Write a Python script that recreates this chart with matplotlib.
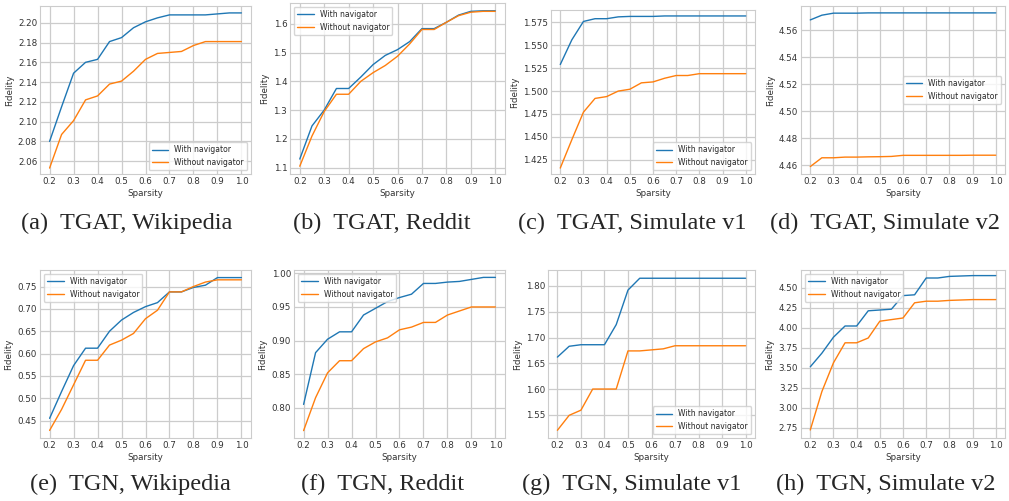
import matplotlib
matplotlib.use('Agg')
from matplotlib import pyplot as plt
from matplotlib.ticker import MultipleLocator, FormatStrFormatter
import seaborn as sns

# =================================
# Data
# =================================
sparsity = [0.2, 0.25, 0.3, 0.35, 0.4, 0.45, 0.5, 0.55, 0.6, 0.65, 0.7, 0.75, 0.8, 0.85, 0.9, 0.95, 1.0]

tgat_wiki_with = [2.080, 2.115, 2.149, 2.160, 2.163, 2.181, 2.185, 2.195, 2.201, 2.205, 2.208, 2.208, 2.208, 2.208, 2.209, 2.210, 2.210]
tgat_wiki_without = [2.053, 2.087, 2.101, 2.122, 2.126, 2.138, 2.141, 2.151, 2.163, 2.169, 2.170, 2.171, 2.177, 2.181, 2.181, 2.181, 2.181]

tgat_reddit_with = [1.13, 1.245, 1.30, 1.375, 1.375, 1.415, 1.458, 1.49, 1.51, 1.538, 1.583, 1.583, 1.605, 1.630, 1.643, 1.645, 1.645]
tgat_reddit_without = [1.105, 1.21, 1.295, 1.355, 1.355, 1.40, 1.43, 1.455, 1.487, 1.53, 1.58, 1.58, 1.605, 1.628, 1.640, 1.643, 1.643]

tgat_sim1_with = [1.529, 1.556, 1.576, 1.579, 1.579, 1.581, 1.5815, 1.5815, 1.5815, 1.582, 1.582, 1.582, 1.582, 1.582, 1.582, 1.582, 1.582]
tgat_sim1_without = [1.416, 1.447, 1.477, 1.492, 1.494, 1.500, 1.502, 1.509, 1.510, 1.514, 1.517, 1.517, 1.519, 1.519, 1.519, 1.519, 1.519]

tgat_sim2_with = [4.5675, 4.571, 4.5725, 4.5725, 4.5725, 4.5727, 4.5727, 4.5727, 4.5727, 4.5727, 4.5727, 4.5727, 4.5727, 4.5727, 4.5727, 4.5727, 4.5727]
tgat_sim2_without = [4.459, 4.4655, 4.4655, 4.466, 4.466, 4.4662, 4.4663, 4.4665, 4.4673, 4.4673, 4.4673, 4.4673, 4.4673, 4.4673, 4.4674, 4.4674, 4.4674]

tgn_wiki_with = [0.455, 0.515, 0.573, 0.612, 0.612, 0.650, 0.675, 0.692, 0.705, 0.714, 0.738, 0.738, 0.748, 0.753, 0.770, 0.770, 0.770]
tgn_wiki_without = [0.428, 0.475, 0.530, 0.585, 0.585, 0.619, 0.630, 0.645, 0.678, 0.697, 0.738, 0.738, 0.750, 0.760, 0.765, 0.765, 0.765]

tgn_reddit_with = [0.805, 0.882, 0.902, 0.913, 0.913, 0.938, 0.948, 0.958, 0.964, 0.969, 0.985, 0.985, 0.987, 0.988, 0.991, 0.994, 0.994]
tgn_reddit_without = [0.766, 0.815, 0.852, 0.870, 0.870, 0.888, 0.898, 0.904, 0.916, 0.920, 0.927, 0.927, 0.938, 0.944, 0.950, 0.950, 0.950]

tgn_sim1_with = [1.662, 1.683, 1.686, 1.686, 1.686, 1.725, 1.792, 1.815, 1.815, 1.815, 1.815, 1.815, 1.815, 1.815, 1.815, 1.815, 1.815]
tgn_sim1_without = [1.520, 1.549, 1.559, 1.600, 1.600, 1.600, 1.674, 1.674, 1.676, 1.678, 1.684, 1.684, 1.684, 1.684, 1.684, 1.684, 1.684]

tgn_sim2_with = [3.51, 3.68, 3.88, 4.02, 4.02, 4.21, 4.22, 4.23, 4.40, 4.41, 4.62, 4.62, 4.64, 4.645, 4.65, 4.65, 4.65]
tgn_sim2_without = [2.72, 3.20, 3.56, 3.81, 3.81, 3.87, 4.08, 4.10, 4.12, 4.31, 4.33, 4.33, 4.34, 4.345, 4.35, 4.35, 4.35]

captions = ['(a)  TGAT, Wikipedia', '(b)  TGAT, Reddit', '(c)  TGAT, Simulate v1', '(d)  TGAT, Simulate v2',
            '(e)  TGN, Wikipedia', '(f)  TGN, Reddit', '(g)  TGN, Simulate v1', '(h)  TGN, Simulate v2']

# (with, without, ylim, y tick step, tick format, legend loc)
panels = [
    (tgat_wiki_with, tgat_wiki_without, (2.047, 2.217), 0.02, '%.2f', 'lower right'),
    (tgat_reddit_with, tgat_reddit_without, (1.078, 1.672), 0.1, '%.1f', 'upper left'),
    (tgat_sim1_with, tgat_sim1_without, (1.4095, 1.5885), 0.025, '%.3f', 'lower right'),
    (tgat_sim2_with, tgat_sim2_without, (4.4535, 4.5778), 0.02, '%.2f', 'center right'),
    (tgn_wiki_with, tgn_wiki_without, (0.411, 0.787), 0.05, '%.2f', 'upper left'),
    (tgn_reddit_with, tgn_reddit_without, (0.755, 1.005), 0.05, '%.2f', 'upper left'),
    (tgn_sim1_with, tgn_sim1_without, (1.505, 1.831), 0.05, '%.2f', 'lower right'),
    (tgn_sim2_with, tgn_sim2_without, (2.62, 4.72), 0.25, '%.2f', 'upper left'),
]

# axes boxes in pixels: left, right, top, bottom
W, H = 1009, 501
boxes = [
    (40, 251, 6, 174), (290, 505, 3, 174), (551, 755, 10, 174), (801, 1005, 6, 174),
    (40, 251, 270, 438), (294, 505, 270, 438), (548, 755, 270, 438), (801, 1005, 270, 438),
]
cap_x = [127, 382, 632, 885, 130, 383, 632, 886]

sns.set_theme(style='whitegrid')
plt.rcParams['font.family'] = ['DejaVu Sans']
fs = 6.3
lfs = 5.5

fig = plt.figure(figsize=(W / 100, H / 100), dpi=100)
for i, (w, wo, ylim, step, fmt, loc) in enumerate(panels):
    l, r, t, b = boxes[i]
    ax = fig.add_axes([l / W, 1 - b / H, (r - l) / W, (b - t) / H])
    ax.plot(sparsity, w, color='#1f77b4', lw=1.0, label='With navigator')
    ax.plot(sparsity, wo, color='#ff7f0e', lw=1.0, label='Without navigator')
    ax.set_xlim(0.16, 1.04)
    ax.set_ylim(*ylim)
    ax.set_xticks([0.2, 0.3, 0.4, 0.5, 0.6, 0.7, 0.8, 0.9, 1.0])
    ax.yaxis.set_major_locator(MultipleLocator(step))
    ax.yaxis.set_major_formatter(FormatStrFormatter(fmt))
    ax.tick_params(labelsize=fs, length=0, pad=2, colors='#333333')
    ax.set_xlabel('Sparsity', fontsize=fs, labelpad=2, color='#333333')
    ax.set_ylabel('Fidelity', fontsize=fs, labelpad=3, color='#333333')
    for s in ax.spines.values():
        s.set_linewidth(0.8)
    ax.grid(lw=0.9)
    ax.legend(loc=loc, fontsize=lfs, frameon=True, handlelength=2.2)
    cy = 223 if i < 4 else 484
    fig.text(cap_x[i] / W, 1 - cy / H, captions[i], ha='center', va='center',
             fontsize=17.5, family='Liberation Serif')

fig.savefig('out.png', dpi=100)
